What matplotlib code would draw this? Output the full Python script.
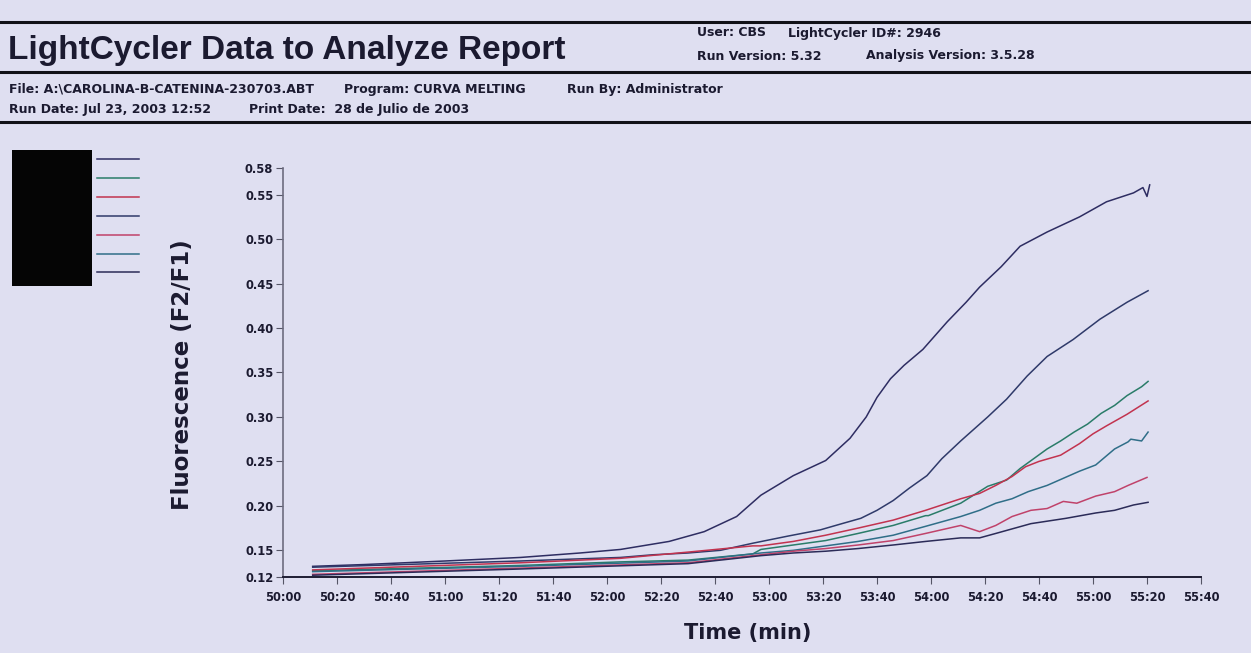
#!/usr/bin/env python3

import numpy as np
import matplotlib.pyplot as plt
from matplotlib.lines import Line2D
from matplotlib.patches import Rectangle

W, H = 1251, 653

# time in seconds after 50:00, fluorescence F2/F1
t_a = [11, 30, 60, 88, 110, 125, 143, 156, 168, 177, 189, 201, 210, 216, 220,
       225, 230, 237, 246, 253, 258, 266, 273, 283, 295, 305, 315, 318.5, 320,
       321]
f_a = [0.132, 0.134, 0.138, 0.142, 0.147, 0.151, 0.160, 0.171, 0.188, 0.212,
       0.234, 0.251, 0.276, 0.300, 0.322, 0.343, 0.358, 0.376, 0.407, 0.429,
       0.446, 0.469, 0.492, 0.508, 0.525, 0.542, 0.552, 0.558, 0.548, 0.561]

t_b = [11, 88, 106, 125, 137, 150, 162, 174, 187, 199, 207, 214, 220, 226,
       232, 238.5, 244, 251, 261, 268, 275.6, 283, 292.6, 302.6, 312.6, 320.4]
f_b = [0.131, 0.138, 0.140, 0.142, 0.145, 0.147, 0.150, 0.158, 0.166, 0.173,
       0.180, 0.186, 0.195, 0.206, 0.220, 0.234, 0.253, 0.273, 0.300, 0.320,
       0.346, 0.368, 0.387, 0.410, 0.429, 0.442]

t_c = [11, 88, 125, 150, 174, 177, 189, 201, 213, 226, 238, 239, 251, 261,
       268, 273, 278, 283, 288, 293, 298, 303, 308, 312.6, 318, 320.4]
f_c = [0.127, 0.133, 0.137, 0.139, 0.146, 0.151, 0.156, 0.161, 0.169, 0.178,
       0.189, 0.189, 0.203, 0.222, 0.229, 0.242, 0.253, 0.264, 0.273, 0.283,
       0.292, 0.304, 0.313, 0.324, 0.334, 0.340]

t_d = [11, 88, 125, 150, 174, 177, 189, 201, 213, 226, 238, 251, 258, 264,
       270, 275, 280, 288, 295, 300, 305, 312.6, 320.4]
f_d = [0.128, 0.136, 0.141, 0.148, 0.155, 0.155, 0.160, 0.167, 0.175, 0.184,
       0.195, 0.208, 0.214, 0.223, 0.233, 0.244, 0.250, 0.257, 0.270, 0.281,
       0.290, 0.303, 0.318]

t_e = [11, 88, 150, 177, 189, 201, 213, 226, 238, 251, 258, 264, 270, 276,
       283, 289, 295, 301, 308, 313, 314, 318, 320.4]
f_e = [0.126, 0.132, 0.138, 0.147, 0.150, 0.155, 0.160, 0.167, 0.177, 0.188,
       0.195, 0.203, 0.208, 0.216, 0.223, 0.231, 0.239, 0.246, 0.264, 0.272,
       0.275, 0.273, 0.283]

t_f = [11, 88, 150, 177, 189, 201, 213, 226, 238, 251, 258, 264, 270, 277,
       283, 289, 294, 301, 308, 313, 320]
f_f = [0.123, 0.130, 0.136, 0.145, 0.149, 0.152, 0.156, 0.161, 0.169, 0.178,
       0.171, 0.178, 0.188, 0.195, 0.197, 0.205, 0.203, 0.211, 0.216, 0.223,
       0.232]

t_g = [11, 88, 150, 177, 189, 201, 213, 226, 238, 251, 258, 264, 277, 290,
       301, 308, 315, 320.4]
f_g = [0.122, 0.129, 0.135, 0.144, 0.147, 0.149, 0.152, 0.156, 0.160, 0.164,
       0.164, 0.169, 0.180, 0.186, 0.192, 0.195, 0.201, 0.204]

series = [(t_a, f_a), (t_b, f_b), (t_c, f_c), (t_d, f_d),
          (t_e, f_e), (t_f, f_f), (t_g, f_g)]
colors = ['#2e2d62', '#2f3a6a', '#2a7c69', '#c2334f', '#2f6e88', '#c0426a',
          '#2b2b58']

legend_colors = ['#2e2d62', '#2a7c69', '#c2334f', '#2f3a6a', '#c0426a',
                 '#2f6e88', '#2b2b58']

y_ticks = [0.12, 0.15, 0.20, 0.25, 0.30, 0.35, 0.40, 0.45, 0.50, 0.55, 0.58]
x_ticks = list(range(0, 341, 20))
x_labels = ['%d:%02d' % (50 + s // 60, s % 60) for s in x_ticks]

paper = '#dfdff1'
ink = '#1b1a30'
heavy = ['DejaVu Sans']
plt.rcParams['font.family'] = ['Liberation Sans', 'DejaVu Sans']


def fx(px):
    return px / W


def fy(py):
    return 1 - py / H


fig = plt.figure(figsize=(W / 100, H / 100), dpi=100, facecolor=paper)

# header
for py in (22, 72, 122):
    fig.add_artist(Line2D([0, 1], [fy(py), fy(py)], color='#111118', lw=2.2))

fig.text(fx(8), fy(51), 'LightCycler Data to Analyze Report', fontsize=24,
         fontweight='bold', color=ink, va='center')
small = dict(fontsize=9, fontweight='bold', color=ink, va='center',
             family=heavy)
fig.text(fx(697), fy(33), 'User: CBS', **small)
fig.text(fx(788), fy(33), 'LightCycler ID#: 2946', **small)
fig.text(fx(697), fy(56), 'Run Version: 5.32', **small)
fig.text(fx(866), fy(56), 'Analysis Version: 3.5.28', **small)
fig.text(fx(9), fy(89), 'File: A:\\CAROLINA-B-CATENINA-230703.ABT', **small)
fig.text(fx(344), fy(89), 'Program: CURVA MELTING', **small)
fig.text(fx(567), fy(89), 'Run By: Administrator', **small)
fig.text(fx(9), fy(110), 'Run Date: Jul 23, 2003 12:52', **small)
fig.text(fx(249), fy(110), 'Print Date:  28 de Julio de 2003', **small)

# legend block (names unreadable on the print)
fig.add_artist(Rectangle((fx(12), fy(286)), fx(80), fy(150) - fy(286),
                         facecolor='#050505', edgecolor='none'))
for i, c in enumerate(legend_colors):
    yy = fy(159 + i * 18.9)
    fig.add_artist(Line2D([fx(97), fx(139)], [yy, yy], color=c, lw=1.1))

# plot area
left, right, top, bottom = 283, 1201, 168, 577
ax = fig.add_axes([fx(left), fy(bottom), fx(right - left),
                   fy(top) - fy(bottom)])
ax.set_facecolor('none')
for (t, f), c in zip(series, colors):
    ax.plot(t, f, color=c, lw=1.1)

ax.set_xlim(0, 340)
ax.set_ylim(0.12, 0.58)
ax.set_xticks(x_ticks)
ax.set_xticklabels(x_labels)
ax.set_yticks(y_ticks)
ax.set_yticklabels(['%.2f' % v for v in y_ticks])
for lab in ax.get_xticklabels() + ax.get_yticklabels():
    lab.set_fontweight('bold')
    lab.set_fontsize(8.3)
    lab.set_family(heavy)
    lab.set_color(ink)
ax.tick_params(axis='x', direction='out', length=5, width=0.8, pad=5,
               colors='#555566', labelcolor=ink)
ax.tick_params(axis='y', direction='out', length=5, width=0.8, pad=2,
               colors='#555566', labelcolor=ink)
for s in ('top', 'right'):
    ax.spines[s].set_visible(False)
ax.spines['left'].set_color('#6d6c80')
ax.spines['left'].set_linewidth(1.2)
ax.spines['bottom'].set_color('#1e1d33')
ax.spines['bottom'].set_linewidth(1.4)

fig.text(fx(183), fy(375), 'Fluorescence (F2/F1)', rotation=90,
         fontsize=16.5, fontweight='bold', color=ink, ha='center',
         va='center', family=heavy)
fig.text(fx(748), fy(633), 'Time (min)', fontsize=15, fontweight='bold',
         color=ink, ha='center', va='center', family=heavy)

fig.savefig('out.png', dpi=100, facecolor=paper)
